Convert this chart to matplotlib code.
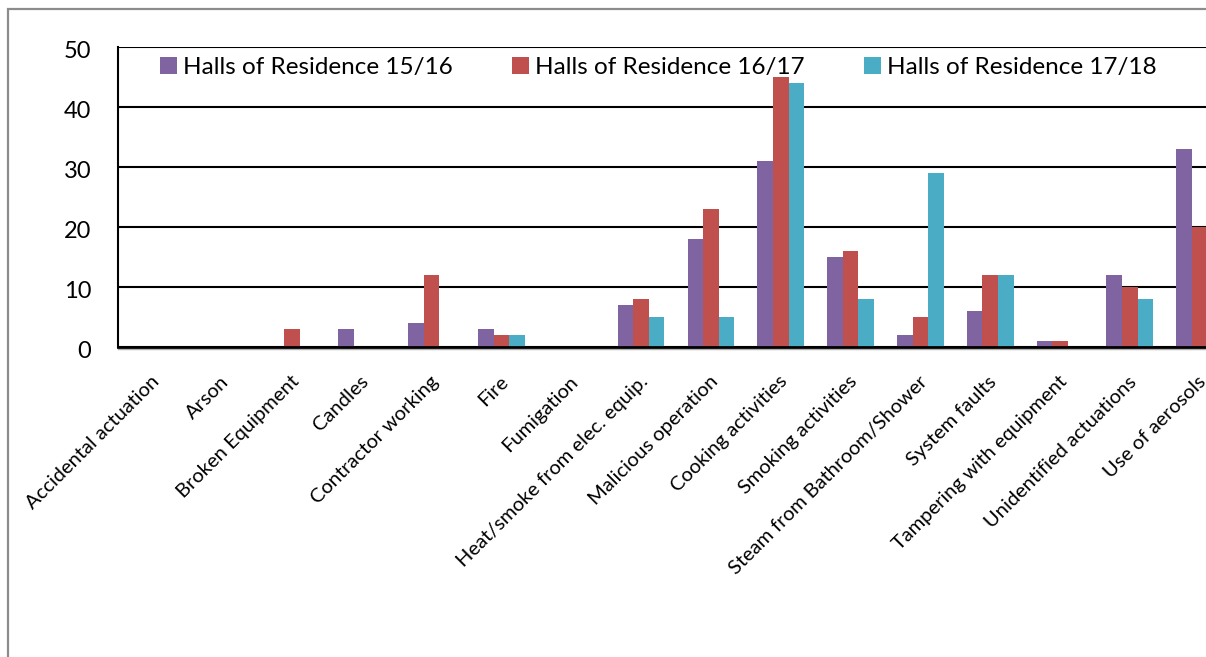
import numpy as np
import matplotlib
matplotlib.use("Agg")
import matplotlib.pyplot as plt
import matplotlib.transforms as mtransforms
from matplotlib.patches import Rectangle

plt.rcParams['font.family'] = ['Lato', 'DejaVu Sans']

# alarm causes
categories = [
    'Accidental actuation', 'Arson', 'Broken Equipment', 'Candles',
    'Contractor working', 'Fire', 'Fumigation', 'Heat/smoke from elec. equip.',
    'Malicious operation', 'Cooking activities', 'Smoking activities',
    'Steam from Bathroom/Shower', 'System faults', 'Tampering with equipment',
    'Unidentified actuations', 'Use of aerosols',
]
series_names = ['Halls of Residence 15/16', 'Halls of Residence 16/17',
                'Halls of Residence 17/18']
halls_1516 = [0, 0, 0, 3, 4, 3, 0, 7, 18, 31, 15, 2, 6, 1, 12, 33]
halls_1617 = [0, 0, 3, 0, 12, 2, 0, 8, 23, 45, 16, 5, 12, 1, 10, 20]
halls_1718 = [0, 0, 0, 0, 0, 2, 0, 5, 5, 44, 8, 29, 12, 0, 8, np.nan]
y_ticks = [0, 10, 20, 30, 40, 50]

colors = ['#8064A2', '#C0504D', '#4BACC6']

fig = plt.figure(figsize=(12.06, 6.57), dpi=100)
W, H = 1206, 657

# outer frame of the chart area (runs off the right and bottom edges)
fig.patches.append(Rectangle((8 / W, -0.1), 1.2, 1 - 9 / H + 0.1,
                             transform=fig.transFigure, fill=False,
                             edgecolor='#8c8c8c', linewidth=1.6))

ax = fig.add_axes([117.5 / W, 1 - 347 / H, 1117 / W, 300 / H])

x = np.arange(len(categories))
w = 0.223
for i, (vals, c, name) in enumerate(zip([halls_1516, halls_1617, halls_1718],
                                        colors, series_names)):
    ax.bar(x + (i - 1) * w, vals, width=w, color=c, label=name, zorder=3)

ax.set_xlim(-0.5, len(categories) - 0.5)
ax.set_ylim(0, 50)
ax.set_yticks(y_ticks)
ax.yaxis.grid(True, color='black', linewidth=1.5, zorder=1)
ax.set_axisbelow(True)
for s in ['top', 'right']:
    ax.spines[s].set_visible(False)
ax.spines['left'].set_linewidth(1.5)
ax.spines['bottom'].set_linewidth(2)
ax.spines['bottom'].set_zorder(4)
# faint grey line just under the category axis
shadow = ax.transAxes + mtransforms.ScaledTranslation(0, -2 / 100, fig.dpi_scale_trans)
ax.plot([0, 1], [0, 0], color='#b0b0b0', linewidth=1, clip_on=False,
        zorder=2, transform=shadow)
ax.tick_params(axis='both', length=0)
ax.tick_params(axis='y', labelsize=17, pad=19)
for lbl in ax.get_yticklabels():
    lbl.set_transform(lbl.get_transform() + mtransforms.ScaledTranslation(
        0, -3 / 100, fig.dpi_scale_trans))

ax.set_xticks(x)
ax.set_xticklabels(categories, rotation=45, ha='right', va='center',
                   rotation_mode='anchor', fontsize=14.5)
offset = mtransforms.ScaledTranslation(4 / 100, -27 / 100, fig.dpi_scale_trans)
for lbl in ax.get_xticklabels():
    lbl.set_transform(lbl.get_transform() + offset)

ax.legend(loc='upper left', bbox_to_anchor=(0.029, 1.0), ncol=3,
          frameon=False, fontsize=17.5, handlelength=0.7, handleheight=0.7,
          handletextpad=0.25, columnspacing=2.45, borderaxespad=0)

fig.savefig('out.png', dpi=100)
